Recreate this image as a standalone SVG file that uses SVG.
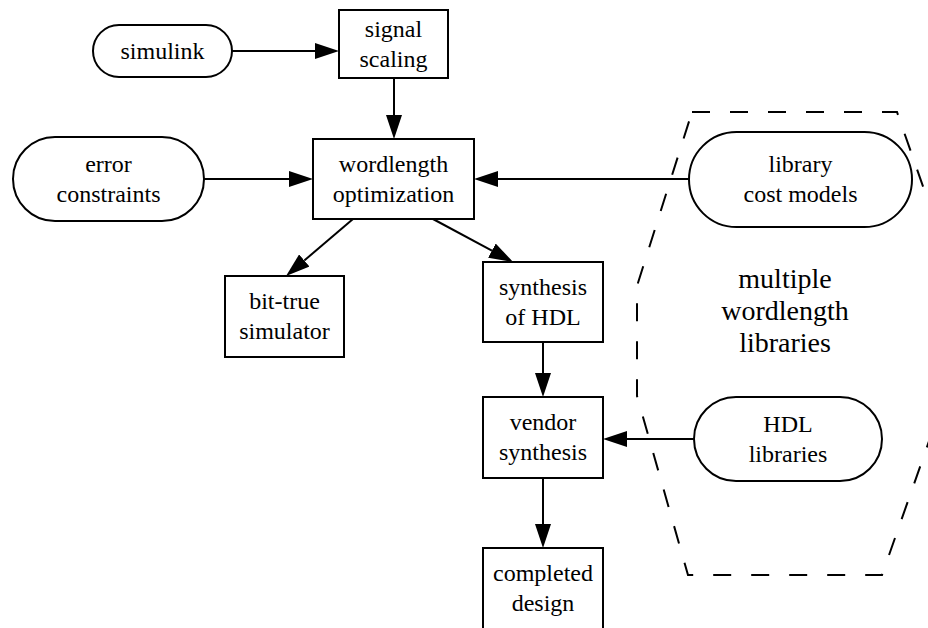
<svg xmlns="http://www.w3.org/2000/svg" width="928" height="628" viewBox="0 0 928 628">
<style>
.n{fill:#fff;stroke:#000;stroke-width:2}
text{font-family:'Liberation Serif','Times New Roman','DejaVu Serif',serif;font-size:24px;text-anchor:middle;fill:#000}
text.big{font-size:28px}
.e{fill:none;stroke:#000;stroke-width:2}
.cl{fill:none;stroke:#000;stroke-width:2;stroke-dasharray:18,20}
</style>
<defs>
<marker id="ah" viewBox="0 0 24 16" refX="0" refY="8" markerWidth="24" markerHeight="16" markerUnits="userSpaceOnUse" orient="auto">
<path d="M0,0 L24,8 L0,16 Z" fill="#000"/>
</marker>
</defs>
<g id="cluster">
<polygon class="cl" points="692,112 897,112 940,235 940,410 882,575 688,575 637,396 637,286"/>
<text class="big" x="785" y="288" font-family="Liberation Serif, serif">multiple</text>
<text class="big" x="785" y="320" font-family="Liberation Serif, serif">wordlength</text>
<text class="big" x="785" y="352" font-family="Liberation Serif, serif">libraries</text>
</g>
<g id="connectors">
<line class="e" x1="232" y1="51" x2="315" y2="51" marker-end="url(#ah)"/>
<line class="e" x1="394" y1="78" x2="394" y2="115" marker-end="url(#ah)"/>
<line class="e" x1="204" y1="179" x2="289" y2="179" marker-end="url(#ah)"/>
<line class="e" x1="689" y1="179" x2="498" y2="179" marker-end="url(#ah)"/>
<line class="e" x1="353" y1="219" x2="304.3" y2="260.5" marker-end="url(#ah)"/>
<line class="e" x1="433" y1="219" x2="491.9" y2="250.6" marker-end="url(#ah)"/>
<line class="e" x1="543" y1="342" x2="543" y2="373" marker-end="url(#ah)"/>
<line class="e" x1="694" y1="439" x2="627" y2="439" marker-end="url(#ah)"/>
<line class="e" x1="543" y1="478" x2="543" y2="524" marker-end="url(#ah)"/>
</g>
<g id="simulink">
<rect class="n" x="93" y="25" width="139" height="52" rx="26" ry="26"/>
<text x="162.5" y="59" font-family="Liberation Serif, serif">simulink</text>
</g>
<g id="signal_scaling">
<rect class="n" x="339" y="10" width="109" height="68"/>
<text x="393.5" y="37" font-family="Liberation Serif, serif">signal</text>
<text x="393.5" y="67" font-family="Liberation Serif, serif">scaling</text>
</g>
<g id="error_constraints">
<rect class="n" x="13" y="137" width="191" height="84" rx="42" ry="42"/>
<text x="108.5" y="172" font-family="Liberation Serif, serif">error</text>
<text x="108.5" y="202" font-family="Liberation Serif, serif">constraints</text>
</g>
<g id="wordlength_optimization">
<rect class="n" x="313" y="139" width="161" height="80"/>
<text x="393.5" y="172" font-family="Liberation Serif, serif">wordlength</text>
<text x="393.5" y="202" font-family="Liberation Serif, serif">optimization</text>
</g>
<g id="library_cost_models">
<rect class="n" x="689" y="132" width="223" height="95" rx="47.5" ry="47.5"/>
<text x="800.5" y="172" font-family="Liberation Serif, serif">library</text>
<text x="800.5" y="202" font-family="Liberation Serif, serif">cost models</text>
</g>
<g id="bit_true_simulator">
<rect class="n" x="225" y="276" width="119" height="81"/>
<text x="284.5" y="309" font-family="Liberation Serif, serif">bit-true</text>
<text x="284.5" y="339" font-family="Liberation Serif, serif">simulator</text>
</g>
<g id="synthesis_of_HDL">
<rect class="n" x="483" y="262" width="120" height="80"/>
<text x="543" y="295" font-family="Liberation Serif, serif">synthesis</text>
<text x="543" y="325" font-family="Liberation Serif, serif">of HDL</text>
</g>
<g id="vendor_synthesis">
<rect class="n" x="483" y="397" width="120" height="81"/>
<text x="543" y="430" font-family="Liberation Serif, serif">vendor</text>
<text x="543" y="460" font-family="Liberation Serif, serif">synthesis</text>
</g>
<g id="HDL_libraries">
<rect class="n" x="694" y="397" width="188" height="84" rx="42" ry="42"/>
<text x="788" y="432" font-family="Liberation Serif, serif">HDL</text>
<text x="788" y="462" font-family="Liberation Serif, serif">libraries</text>
</g>
<g id="completed_design">
<rect class="n" x="483" y="548" width="120" height="81"/>
<text x="543" y="581" font-family="Liberation Serif, serif">completed</text>
<text x="543" y="611" font-family="Liberation Serif, serif">design</text>
</g>
</svg>
